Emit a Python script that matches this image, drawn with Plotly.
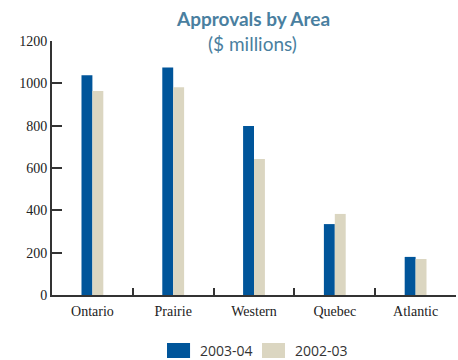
import plotly.graph_objects as go

areas = ["Ontario", "Prairie", "Western", "Quebec", "Atlantic"]
fy2003_04 = [1038, 1075, 798, 335, 180]
fy2002_03 = [964, 981, 642, 383, 170]
y_ticks = [0, 200, 400, 600, 800, 1000, 1200]
series_names = ["2003-04", "2002-03"]

blue = "#00559a"
beige = "#dbd6c1"
axis_col = "#333333"
title_col = "#4a7fa0"

fig = go.Figure()
fig.add_trace(go.Bar(x=areas, y=fy2003_04, name=series_names[0], marker=dict(color=blue, line=dict(width=0))))
fig.add_trace(go.Bar(x=areas, y=fy2002_03, name=series_names[1], marker=dict(color=beige, line=dict(width=0))))

# custom legend (larger swatches, as in the reference)
legend_items = [(series_names[0], blue, 0.2847), (series_names[1], beige, 0.5198)]
for name, col, x0 in legend_items:
    fig.add_shape(type="rect", xref="paper", yref="paper",
                  x0=x0, x1=x0 + 0.057, y0=-0.248, y1=-0.189,
                  fillcolor=col, line=dict(width=0))
    fig.add_annotation(text=name, xref="paper", yref="paper",
                       x=x0 + 0.077, y=-0.2185, xanchor="left", yanchor="middle",
                       showarrow=False,
                       font=dict(family="Open Sans", size=14, color="#333333"))

# title lines
fig.add_annotation(text="<b>Approvals by Area</b>", xref="paper", yref="paper",
                   x=0.4975, y=1.087, xanchor="center", yanchor="middle", showarrow=False,
                   font=dict(family="Lato", size=19, color=title_col))
fig.add_annotation(text="($ millions)", xref="paper", yref="paper",
                   x=0.4975, y=0.992, xanchor="center", yanchor="middle", showarrow=False,
                   font=dict(family="Lato", size=19, color=title_col))

fig.update_layout(
    width=458, height=360,
    margin=dict(l=52, r=2, t=41, b=65),
    paper_bgcolor="white", plot_bgcolor="white",
    barmode="group", bargap=0.73, bargroupgap=0,
    showlegend=False,
    xaxis=dict(
        type="category", range=[-0.5, 4.5],
        showline=True, linecolor=axis_col, linewidth=2,
        ticks="inside", tickson="boundaries", ticklen=7, tickwidth=1.5, tickcolor=axis_col,
        tickfont=dict(family="Liberation Serif", size=14, color="#222222"),
        ticklabelstandoff=2,
        showgrid=False, zeroline=False,
    ),
    yaxis=dict(
        range=[0, 1200], tickvals=y_ticks,
        showline=True, linecolor=axis_col, linewidth=2,
        ticks="inside", ticklen=10, tickwidth=2, tickcolor=axis_col,
        tickfont=dict(family="Liberation Serif", size=14, color="#222222"),
        showgrid=False, zeroline=False,
    ),
)

fig.write_html("out.html")
